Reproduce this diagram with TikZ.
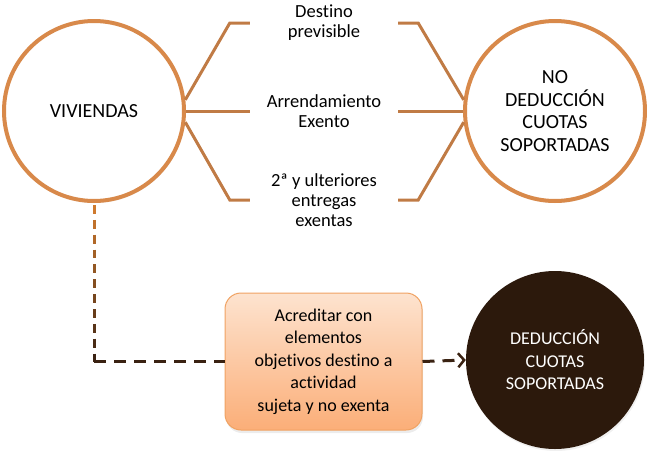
\documentclass[tikz,border=0pt]{standalone}
\usepackage{fontspec}
\setmainfont{Carlito}[Ligatures=NoCommon]
\usetikzlibrary{arrows.meta,calc,shadows}

\definecolor{ringorange}{HTML}{D8894A}
\definecolor{barorange}{HTML}{C07B45}
\definecolor{linkorange}{HTML}{CF7A2E}
\definecolor{linkbrown}{HTML}{3A2212}
\definecolor{deepbrown}{HTML}{2C190C}
\definecolor{boxtop}{HTML}{FDE3CF}
\definecolor{boxbottom}{HTML}{FBAE78}
\definecolor{boxedge}{HTML}{F0A262}

\tikzset{
  ring/.style={circle,draw=ringorange,line width=4pt,fill=white,minimum size=180pt,
    align=center,inner sep=0pt,
    drop shadow={opacity=0.12,shadow xshift=1pt,shadow yshift=-2pt}},
  darkring/.style={circle,fill=deepbrown,minimum size=178pt,align=center,inner sep=0pt,
    text=white,font=\fontsize{18}{22.5}\selectfont,
    drop shadow={opacity=0.12,shadow xshift=1pt,shadow yshift=-2pt}},
  caselabel/.style={minimum width=148pt,inner sep=0pt,align=center,
    font=\fontsize{18.5}{20}\selectfont},
  proofbox/.style={rectangle,rounded corners=16pt,draw=boxedge,line width=1pt,
    top color=boxtop,bottom color=boxbottom,minimum width=197pt,minimum height=137pt,
    align=center,inner sep=0pt,font=\fontsize{18}{22.5}\selectfont,
    drop shadow={opacity=0.15,shadow xshift=1pt,shadow yshift=-3pt}},
  bar/.style={draw=barorange,line width=3pt},
  linkseg/.style={line width=3pt},
  linkdash/.style={draw=linkbrown,line width=3pt,dash pattern=on 12pt off 8pt}
}

\begin{document}
\begin{tikzpicture}[x=1pt,y=-1pt]

\useasboundingbox (0,0) rectangle (647,450);

\node[ring,font=\fontsize{20}{22.7}\selectfont] (viv) at (94,111) {VIVIENDAS};
\node[ring,font=\fontsize{20}{22.7}\selectfont] (nodeduc) at (555,111) {NO\\DEDUCCIÓN\\CUOTAS\\SOPORTADAS};

\node[caselabel] (dest) at (324,23) {Destino\\previsible};
\node[caselabel] (arr) at (324,111) {Arrendamiento\\Exento};
\node[caselabel] (ulter) at (324,200) {2ª y ulteriores\\entregas\\exentas};

\draw[bar] (viv.7) -- ([xshift=-20pt]dest.west) -- (dest.west);
\draw[bar] (viv.0) -- (arr.west);
\draw[bar] (viv.-7) -- ([xshift=-20pt]ulter.west) -- (ulter.west);

\draw[bar] (dest.east) -- ([xshift=20pt]dest.east) -- (nodeduc.173);
\draw[bar] (arr.east) -- (nodeduc.180);
\draw[bar] (ulter.east) -- ([xshift=20pt]ulter.east) -- (nodeduc.187);

\node[proofbox] (acred) at (323.5,361.5) {Acreditar con\\elementos\\objetivos destino a\\actividad\\sujeta y no exenta};
\node[darkring] (ded) at (555,360) {DEDUCCIÓN\\CUOTAS\\SOPORTADAS};

\coordinate (bend) at (viv.south |- acred.west);

\foreach \i in {0,...,10}
{
\pgfmathsetmacro\ta{(\i*15+2)/160}
\pgfmathsetmacro\tb{(\i*15+11)/160}
\pgfmathtruncatemacro\mixp{100-\i*10}
\draw[linkseg,color=linkorange!\mixp!linkbrown] ($(viv.south)!\ta!(bend)$) -- ($(viv.south)!\tb!(bend)$);
}

\draw[linkdash] (bend) -- (acred.west);
\draw[linkdash,-{Straight Barb[length=6pt,width=14pt,line width=2.5pt]}] (acred.east) -- (ded.west);

\end{tikzpicture}
\end{document}
